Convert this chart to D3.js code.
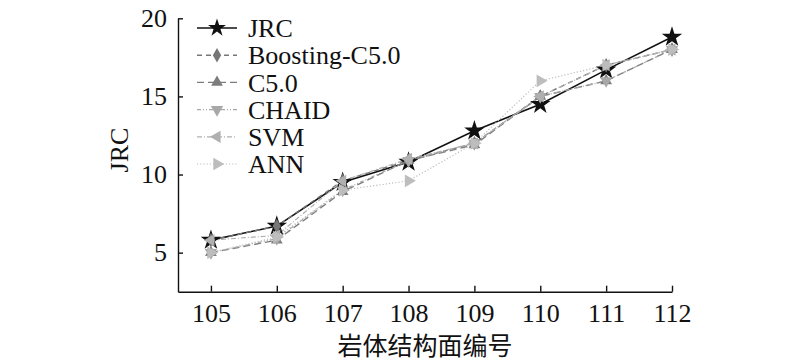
<!DOCTYPE html>
<html><head><meta charset="utf-8">
<script src="https://cdn.jsdelivr.net/npm/d3@7"></script>
<style>body{margin:0;background:#fff}svg{display:block}
.serif{font-family:"Liberation Serif","Times New Roman",Times,serif}
</style>
</head><body><svg id="c" width="800" height="362"></svg>
<script>
const categories = [105, 106, 107, 108, 109, 110, 111, 112];
const seriesNames = ["JRC", "Boosting-C5.0", "C5.0", "CHAID", "SVM", "ANN"];
const jrcValues      = [5.8, 6.7, 9.5, 10.8, 12.8, 14.5, 16.7, 18.8];
const boostingValues = [5.8, 6.7, 9.6, 10.9, 12.0, 15.0, 17.0, 18.0];
const c50Values      = [5.0, 5.8, 8.9, 10.9, 11.9, 15.0, 16.0, 18.0];
const chaidValues    = [5.0, 5.9, 9.0, 10.9, 12.0, 15.0, 16.0, 18.0];
const svmValues      = [5.8, 6.1, 9.6, 11.0, 12.0, 15.0, 17.0, 18.0];
const annValues      = [5.0, 6.0, 9.0, 9.6, 12.0, 16.0, 17.0, 18.0];
const yTicks = [5, 10, 15, 20];
const xTitle = "岩体结构面编号";
const yTitle = "JRC";

const allValues = [jrcValues, boostingValues, c50Values, chaidValues, svmValues, annValues];
const styles = [
  {color: "#111", fill: "#111", dash: null, width: 1.6, sym: d3.symbolStar, size: 130},
  {color: "#777", fill: "#777", dash: "5,4", width: 1.4, sym: d3.symbolDiamond, size: 60},
  {color: "#7d7d7d", fill: "#7d7d7d", dash: "7,4", width: 1.4, sym: d3.symbolTriangle, size: 60},
  {color: "#a8a8a8", fill: "#a8a8a8", dash: "4,2,1,2,1,2", width: 1.2, sym: d3.symbolTriangle, size: 65, rot: 180},
  {color: "#b0b0b0", fill: "#b0b0b0", dash: "5,2,1,2", width: 1.2, sym: d3.symbolTriangle, size: 65, rot: -90},
  {color: "#bdbdbd", fill: "#bdbdbd", dash: "1.2,2", width: 1.2, sym: d3.symbolTriangle, size: 70, rot: 90}
];

const svg = d3.select("#c");
const x = d3.scaleLinear().domain([104.5, 112]).range([178, 672]);
const y = d3.scaleLinear().domain([2.5, 20]).range([291.7, 18.3]);

const xAxis = svg.append("g").attr("transform", "translate(0,291.7)")
  .call(d3.axisBottom(x).tickValues(categories).tickFormat(d3.format("d")).tickSizeInner(-6).tickSizeOuter(0).tickPadding(12));
const yAxis = svg.append("g").attr("transform", "translate(178,0)")
  .call(d3.axisLeft(y).tickValues(yTicks).tickSizeInner(-5).tickSizeOuter(0).tickPadding(11));
[xAxis, yAxis].forEach(g => {
  g.attr("font-family", null).attr("font-size", null);
  g.selectAll("path,line").attr("stroke", "#111").attr("stroke-width", 1.4);
  g.selectAll("text").attr("class", "serif").style("font-size", "26px").attr("fill", "#111");
});

svg.append("text").attr("x", 425).attr("y", 355).attr("text-anchor", "middle")
  .style("font-family", "'Noto Sans CJK SC',sans-serif").style("font-size", "25px").attr("fill", "#111").text(xTitle);
svg.append("text").attr("class", "serif").attr("transform", "translate(128,150) rotate(-90)").attr("text-anchor", "middle")
  .style("font-size", "26px").attr("fill", "#111").text(yTitle);

const line = d3.line().x((d, i) => x(categories[i])).y(d => y(d));
function marker(sel, s) {
  sel.attr("d", d3.symbol().type(s.sym).size(s.size)()).attr("fill", s.fill).attr("stroke", "none");
}
allValues.forEach((vals, k) => {
  const s = styles[k];
  svg.append("path").datum(vals).attr("d", line).attr("fill", "none")
    .attr("stroke", s.color).attr("stroke-width", s.width).attr("stroke-dasharray", s.dash);
});
allValues.forEach((vals, k) => {
  const s = styles[k];
  svg.append("g").selectAll("path").data(vals).join("path")
    .attr("transform", (d, i) => `translate(${x(categories[i])},${y(d)}) rotate(${s.rot || 0})`)
    .call(marker, s);
});

// legend
const lg = svg.append("g");
seriesNames.forEach((name, k) => {
  const s = styles[k];
  const cy = 28 + k * 27.2;
  lg.append("line").attr("x1", 197).attr("x2", 237).attr("y1", cy).attr("y2", cy)
    .attr("stroke", s.color).attr("stroke-width", s.width).attr("stroke-dasharray", s.dash);
  lg.append("path").attr("transform", `translate(217,${cy}) rotate(${s.rot || 0})`).call(marker, k === 0 ? Object.assign({}, s, {size: 100}) : s);
  lg.append("text").attr("class", "serif").attr("x", 248).attr("y", cy).attr("dy", "0.35em")
    .style("font-size", "26px").attr("fill", "#111").text(name);
});
</script></body></html>
